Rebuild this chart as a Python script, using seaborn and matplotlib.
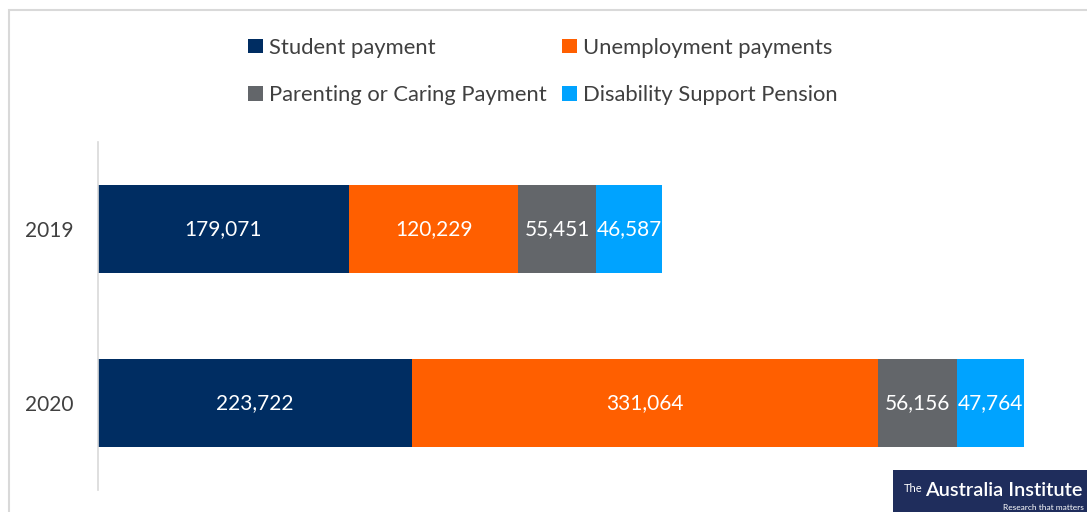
import matplotlib
matplotlib.use("Agg")
import matplotlib.pyplot as plt
from matplotlib.patches import Rectangle, Patch
import seaborn as sns
import pandas as pd
import numpy as np

# Data
years = ["2019", "2020"]
series = ["Student payment", "Unemployment payments",
          "Parenting or Caring Payment", "Disability Support Pension"]
student = [179071, 223722]
unemployment = [120229, 331064]
parenting = [55451, 56156]
disability = [46587, 47764]

colors = ["#002D62", "#FF5F00", "#63666A", "#00A3FF"]

sns.set_theme(style="white")
plt.rcParams["font.family"] = ["Lato", "DejaVu Sans"]

W, H = 1087, 512
fig = plt.figure(figsize=(W / 100, H / 100), dpi=100)
ax = fig.add_axes([97.5 / W, 1 - 490 / H, (1082 - 97.5) / W, (490 - 142) / H])

values = np.array([student, unemployment, parenting, disability], dtype=float)
cum = np.cumsum(values, axis=0)

# Stacked bars: draw cumulative totals from the largest down so each
# segment sits on top of the previous one.
for i in range(len(series) - 1, -1, -1):
    df = pd.DataFrame({"year": years, "value": cum[i]})
    sns.barplot(data=df, x="value", y="year", orient="y", color=colors[i],
                saturation=1, width=0.505, ax=ax, linewidth=0)

# Value labels centred on each segment
for i in range(len(series)):
    for j in range(len(years)):
        v = values[i, j]
        ax.text(cum[i, j] - v / 2, j, f"{int(v):,}", ha="center", va="center",
                color="white", fontsize=15)

ax.set_xlim(0, 700000)
ax.set_ylim(1.5, -0.5)
ax.set_xlabel("")
ax.set_ylabel("")
ax.set_xticks([])
ax.tick_params(axis="y", length=0, pad=17, labelsize=15, labelcolor="#404040")
for s in ["top", "right", "bottom"]:
    ax.spines[s].set_visible(False)
ax.spines["left"].set_color("#d9d9d9")
ax.spines["left"].set_linewidth(1.2)

# Legend, filled row by row (matplotlib fills column-wise, so reorder)
handles = [Patch(facecolor=c, edgecolor="none") for c in colors]
order = [0, 2, 1, 3]
fig.legend([handles[k] for k in order], [series[k] for k in order], ncol=2,
           loc="center", bbox_to_anchor=(543 / W, 1 - 71.5 / H),
           frameon=False, fontsize=15.8, handlelength=0.65, handleheight=0.65,
           handletextpad=0.3, columnspacing=0.7, labelspacing=1.25,
           labelcolor="#404040")

# Outer chart frame
fig.patches.append(Rectangle((9 / W, -0.1), 1.2, 1.1 - 10 / H,
                             transform=fig.transFigure, fill=False,
                             edgecolor="#d9d9d9", linewidth=1.5, zorder=0))

# Branding box
fig.patches.append(Rectangle((893 / W, 0), (W - 893) / W, (512 - 470) / H,
                             transform=fig.transFigure, facecolor="#1F2D5C",
                             edgecolor="none", zorder=5))
fig.text(904 / W, 1 - 488 / H, "The", color="white", fontsize=8,
         ha="left", va="center", zorder=6)
fig.text(925 / W, 1 - 491 / H, "Australia Institute", color="white",
         fontsize=14.3, fontweight="semibold", ha="left", va="center", zorder=6)
fig.text(1084 / W, 1 - 507 / H, "Research that matters", color="white",
         fontsize=6, ha="right", va="center", zorder=6)

fig.savefig("out.png", dpi=100)
